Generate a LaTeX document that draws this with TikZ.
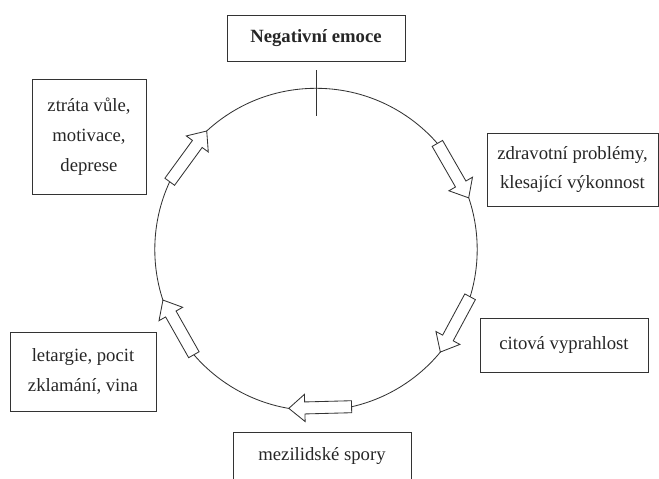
\documentclass[tikz,border=0pt]{standalone}
\usepackage{fontspec}
\setmainfont{Liberation Serif}
\usetikzlibrary{positioning}
\tikzset{stage/.style = {draw=black!80, rectangle, align=center, inner sep=2pt,
                         line width=0.7pt, text=black!85,
                         font=\fontsize{13.3}{21.3}\selectfont},
         headstage/.style = {stage, font=\fontsize{13.3}{21.3}\selectfont\bfseries},
         blockarr/.pic = {\draw[draw=black!80, fill=white, line width=0.6pt]
                            (0,-0.15) -- (1.17,-0.15) -- (1.17,-0.34) -- (1.57,0)
                            -- (1.17,0.34) -- (1.17,0.15) -- (0,0.15) -- cycle;}}

\begin{document}
\begin{tikzpicture}
    \clip (-7.9,-5.7375) rectangle (8.575,6.2375);
    \draw [black!80, line width=0.6pt] (0,0) circle (4.03);
    \coordinate (top) at (90:4.03);
    \draw [black!80, line width=0.7pt] ([yshift=0.45cm]top) -- ([yshift=-0.7cm]top);
    \foreach \a in {29.9, -28.3, -88.5, -150.5, 143.9}
      \pic [rotate=\a-90] at (\a+11.25:4.03) {blockarr};
    \node [headstage, minimum width=4.45cm, minimum height=1.15cm] (emoce) at (0,5.2875) {Negativní emoce};
    \node [stage, minimum width=4.275cm, minimum height=1.825cm] (zdravi) at (6.4125,2.0) {zdravotní problémy,\\ klesající výkonnost};
    \node [stage, minimum width=4.2cm, minimum height=1.35cm] (vyprahlost) at (6.2,-2.3875) {citová vyprahlost};
    \node [stage, minimum width=4.45cm, minimum height=1.225cm] (spory) at (0.15,-5.175) {mezilidské spory};
    \node [stage, minimum width=3.65cm, minimum height=1.975cm] (letargie) at (-5.825,-3.05) {letargie, pocit\\ zklamání, vina};
    \node [stage, minimum width=2.85cm, minimum height=2.875cm] (ztrata) at (-5.675,2.825) {ztráta vůle,\\ motivace,\\ deprese};
  \end{tikzpicture}
\end{document}
